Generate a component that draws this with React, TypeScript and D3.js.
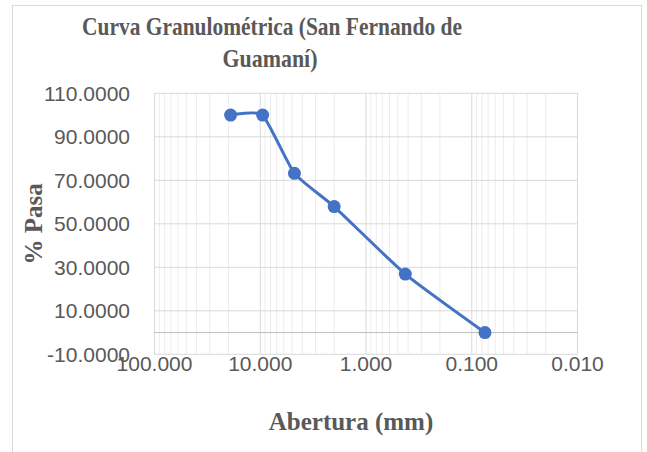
import React from "react";
import * as d3 from "d3";

const aperturas = [19.05, 9.5, 4.75, 2.0, 0.425, 0.075];
const pasa = [100, 100, 73.2, 57.9, 26.9, 0];
const yTicks = [-10, 10, 30, 50, 70, 90, 110];
const xTicks = [100, 10, 1, 0.1, 0.01];

const W = 647;
const H = 452;
const plot = { left: 154.5, right: 577.5, top: 93.3, bottom: 354.3 };

export default function App() {
  const x = d3.scaleLog().domain([100, 0.01]).range([plot.left, plot.right]);
  const y = d3.scaleLinear().domain([-10, 110]).range([plot.bottom, plot.top]);

  const minorTicks: number[] = [];
  for (let e = -2; e < 2; e++) {
    for (let m = 2; m <= 9; m++) minorTicks.push(m * Math.pow(10, e));
  }

  const pts = aperturas.map((a, i) => [x(a), y(pasa[i])] as [number, number]);
  const line = d3.line().curve(d3.curveCardinal.tension(0.5))(pts) || "";

  const sans = "'Liberation Sans', Arial, sans-serif";
  const serif = "'Liberation Serif', 'Times New Roman', serif";
  const gray = "#595959";

  return (
    <svg width={W} height={H} style={{ position: "absolute", left: 0, top: 0, background: "#fff" }}>
      <rect x={12.5} y={5.5} width={629} height={460} fill="#fff" stroke="#d9d9d9" strokeWidth={1} />
      <text x={272} y={35} textAnchor="middle" fontFamily={serif} fontWeight="bold" fontSize={25} fill={gray}
        textLength={380} lengthAdjust="spacingAndGlyphs">
        Curva Granulométrica (San Fernando de
      </text>
      <text x={270} y={67} textAnchor="middle" fontFamily={serif} fontWeight="bold" fontSize={25} fill={gray}
        textLength={95} lengthAdjust="spacingAndGlyphs">
        Guamaní)
      </text>
      {minorTicks.map((t, i) => (
        <line key={"mn" + i} x1={x(t)} x2={x(t)} y1={plot.top} y2={plot.bottom} stroke="#ececec" strokeWidth={1} />
      ))}
      {yTicks.map((t) => (
        <line key={"hy" + t} x1={plot.left} x2={plot.right} y1={y(t)} y2={y(t)} stroke="#d9d9d9" strokeWidth={1} />
      ))}
      {xTicks.map((t) => (
        <line key={"vx" + t} x1={x(t)} x2={x(t)} y1={plot.top} y2={plot.bottom} stroke="#d9d9d9" strokeWidth={1} />
      ))}
      <line x1={plot.left} x2={plot.right} y1={y(0)} y2={y(0)} stroke="#bfbfbf" strokeWidth={1} />
      {yTicks.map((t) => (
        <text key={"yl" + t} x={130} y={y(t) + 7.5} textAnchor="end" fontFamily={sans} fontSize={21} fill={gray}>
          {t.toFixed(4)}
        </text>
      ))}
      {xTicks.map((t) => (
        <text key={"xl" + t} x={x(t)} y={371} textAnchor="middle" fontFamily={sans} fontSize={21} fill={gray}>
          {t.toFixed(3)}
        </text>
      ))}
      <path d={line} fill="none" stroke="#4472C4" strokeWidth={3} />
      {pts.map((p, i) => (
        <circle key={"c" + i} cx={p[0]} cy={p[1]} r={6.5} fill="#4472C4" />
      ))}
      <text
        transform={`translate(42, 223.8) rotate(-90)`}
        textAnchor="middle"
        fontFamily={serif}
        fontWeight="bold"
        fontSize={25}
        fill={gray}
      >
        % Pasa
      </text>
      <text x={351} y={430} textAnchor="middle" fontFamily={serif} fontWeight="bold" fontSize={25} fill={gray}>
        Abertura (mm)
      </text>
    </svg>
  );
}
